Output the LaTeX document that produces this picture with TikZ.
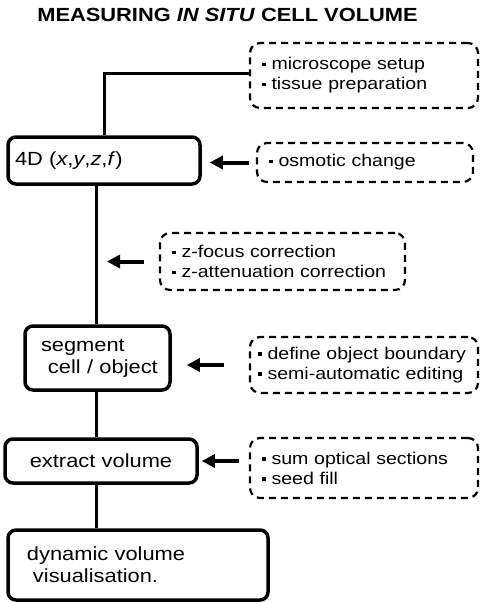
\documentclass[tikz,border=0pt]{standalone}
\usepackage{fontspec}
\setmainfont{Liberation Sans}[FakeStretch=1.15]
\usetikzlibrary{
    calc,
    arrows.meta
}
\tikzset{
  every path/.style={
    black,
    line width=3pt
  },
  stage/.style={
    draw,
    line width=3.5pt,
    rounded corners=8pt,
    align=left,
    inner xsep=7pt,
    inner ysep=5pt,
    font=\fontsize{19}{22}\selectfont
  },
  note/.style={
    draw,
    dash pattern=on 7pt off 5pt,
    line width=2.2pt,
    rounded corners=10pt,
    align=left,
    inner xsep=12pt,
    inner ysep=4pt,
    font=\fontsize{17}{20}\selectfont
  },
  arr/.style={
    -{Triangle[length=13pt,width=13pt]},
    line width=4pt
  }
}
\newcommand{\sqb}{\rule[0.2em]{3.6pt}{3.6pt}\hspace{0.35em}}

\begin{document}
\begin{tikzpicture}[x=1pt,y=-1pt,>=stealth]
    \useasboundingbox (0,0) rectangle (480,602);

    % タイトル
    \node[font=\fontsize{19}{22}\selectfont\bfseries] (title) at (227.5,15)
        {MEASURING \textit{IN SITU} CELL VOLUME};

    % 処理の段階
    \node[stage,text width=178pt,minimum height=47pt] (d4) at (104,160.5)
        {4D (\textit{x},\textit{y},\textit{z},\textit{f})};
    \node[stage,text width=131pt,minimum height=64pt] (seg) at (97.5,358)
        {\hspace*{9pt}segment\\\hspace*{16pt}cell / object};
    \node[stage,text width=178pt,minimum height=44pt,align=center] (ext) at (101,461)
        {extract volume};
    \node[stage,text width=246pt,minimum height=70pt] (dyn) at (138,565)
        {\hspace*{12pt}dynamic volume\\\hspace*{18pt}visualisation.};

    % 補足の条件
    \node[note,text width=204pt,minimum height=65pt] (prep) at (364,75.5)
        {\sqb microscope setup\\\sqb tissue preparation};
    \node[note,text width=192pt,minimum height=39pt] (osm) at (365,162.5)
        {\sqb osmotic change};
    \node[note,text width=221pt,minimum height=57pt] (zbox) at (282.5,261.5)
        {\sqb z-focus correction\\\sqb z-attenuation correction};
    \node[note,text width=212pt,inner xsep=8pt,minimum height=56pt] (def) at (364,365)
        {\sqb\mbox{define object boundary}\\\sqb\mbox{semi-automatic editing}};
    \node[note,text width=204pt,minimum height=60pt] (sum) at (364,468)
        {\sqb sum optical sections\\\sqb seed fill};

    % 縦の流れ
    \coordinate (trunk) at (96,0);
    \coordinate (zhit) at (107,0);
    \draw ([yshift=2.5pt]prep.west) -| (d4.north);
    \draw (d4.south -| trunk) -- (seg.north -| trunk);
    \draw (seg.south -| trunk) -- (ext.north -| trunk);
    \draw (ext.south -| trunk) -- (dyn.north -| trunk);

    % 矢印
    \draw[arr] ([xshift=-7pt]osm.west) -- ([xshift=8pt]d4.east |- osm.west);
    \draw[arr] ([xshift=-15pt]zbox.west) -- (zbox.west -| zhit);
    \draw[arr] ([xshift=-25pt]def.west) -- ([xshift=15pt]seg.east |- def.west);
    \draw[arr] ([xshift=-10pt]sum.west |- ext.east) -- ([xshift=3pt]ext.east);
\end{tikzpicture}
\end{document}
